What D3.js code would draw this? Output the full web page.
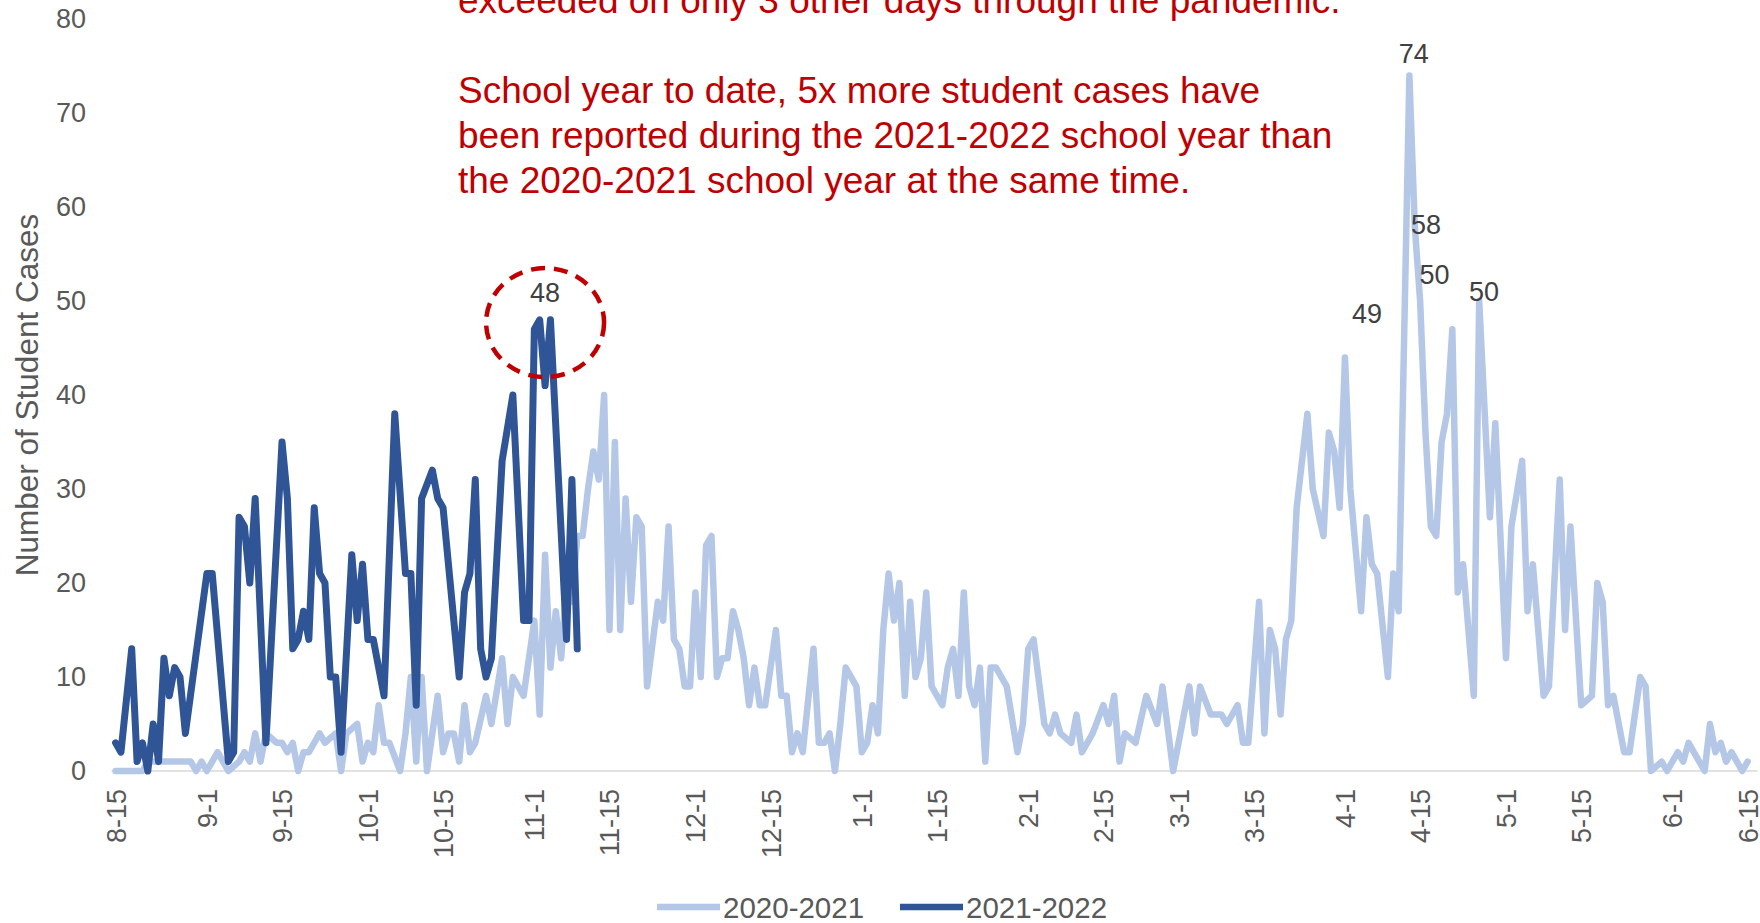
<!DOCTYPE html>
<html><head><meta charset="utf-8">
<script src="https://cdn.jsdelivr.net/npm/d3@7"></script>
<style>
html,body{margin:0;padding:0;background:#fff;overflow:hidden}
svg{display:block;font-family:"Liberation Sans",Arial,sans-serif}
</style></head><body>
<svg id="chart" width="1760" height="923"></svg>
<script>
// ---- data ----
// x categories: day of the school year (0 = Aug 15)
const tickLabels = ["8-15","9-1","9-15","10-1","10-15","11-1","11-15","12-1","12-15","1-1","1-15","2-1","2-15","3-1","3-15","4-1","4-15","5-1","5-15","6-1","6-15"];
const yTicks = [0,10,20,30,40,50,60,70,80];
const seriesNames = ["2020-2021","2021-2022"];

const days2020 = [0,5,6,14,15,16,17,19,20,21,23,24,25,26,27,28,30,31,32,33,34,35,36,37,38,39,41,42,43,45,46,47,48,49,50,51,53,54,55,56,57,58,60,61,62,63,64,65,66,67,69,70,72,73,74,76,78,79,80,81,82,83,84,85,86,87,88,89,90,91,92,93,94,95,96,97,98,99,101,102,103,104,105,106,107,108,109,110,111,112,113,114,115,116,117,118,119,120,121,123,124,125,126,127,128,130,131,132,133,134,135,136,138,139,140,141,142,143,144,145,146,147,148,149,150,151,152,154,155,156,157,158,159,160,161,162,163,164,166,168,169,170,171,173,174,175,176,178,179,180,182,184,185,186,187,188,190,192,194,195,197,198,200,201,202,204,206,207,209,210,211,213,214,215,216,217,218,219,220,222,223,225,226,227,228,229,230,232,233,234,235,237,238,239,241,242,243,244,245,246,247,248,249,250,251,253,254,256,257,259,260,262,263,264,266,267,269,270,271,273,275,276,277,278,279,281,282,284,285,286,288,289,291,292,293,296,297,298,299,300,301,303,304];
const cases2020 = [0,0,1,1,0,1,0,2,1,0,1,2,1,4,1,4,3,3,2,3,0,2,2,3,4,3,4,0,4,5,1,3,2,7,3,3,0,4,10,1,10,0,8,2,4,4,1,7,2,3,8,5,12,5,10,8,16,6,23,11,17,12,20,18,25,25,30,34,31,40,15,35,15,29,18,27,26,9,18,16,26,14,13,9,9,19,10,24,25,10,12,12,17,15,12,7,11,7,7,15,8,8,2,4,2,13,3,3,4,0,5,11,9,2,3,7,4,15,21,16,20,8,18,10,12,19,9,7,11,13,8,19,9,7,11,1,11,11,9,2,5,13,14,5,4,6,4,3,6,2,4,7,5,8,1,4,3,8,5,9,0,3,9,4,9,6,6,5,7,3,3,18,4,15,13,6,14,16,28,38,30,25,36,34,28,44,30,17,27,22,21,10,21,17,74,58,50,36,26,25,35,38,47,19,22,8,50,27,37,12,26,33,17,22,8,9,31,15,26,7,8,20,18,7,8,2,2,10,9,0,1,0,2,1,3,0,5,2,3,1,2,0,1];

const days2021 = [0,1,3,4,5,6,7,8,9,10,11,12,13,17,18,21,22,23,24,25,26,28,31,32,33,34,35,36,37,38,39,40,41,42,44,45,46,47,48,50,52,54,55,56,57,59,60,61,64,65,66,67,68,69,70,72,74,76,77,78,79,80,81,84,85,86];
const cases2021 = [3,2,13,1,3,0,5,1,12,8,11,10,4,21,21,1,2,27,26,20,29,3,35,29,13,14,17,14,28,21,20,10,10,2,23,16,22,14,14,8,38,21,21,7,29,32,29,28,10,19,21,31,13,10,12,33,40,16,16,47,48,41,48,14,31,13];

// data labels (anchored in data units)
const labelDays   = [80, 241.8, 244.1, 245.7, 254.9, 233.1];
const labelValues = [50.9, 76.3, 58.1, 52.8, 51, 48.6];
const labelTexts  = ["48","74","58","50","50","49"];

const noteLines = ["exceeded on only 3 other days through the pandemic.", "", "School year to date, 5x more student cases have", "been reported during the 2021-2022 school year than", "the 2020-2021 school year at the same time."];

// ---- drawing ----
const svg = d3.select("#chart");
const start = Date.UTC(2020,7,15);
const tickDays = tickLabels.map(s => {
  const [m, d] = s.split("-").map(Number);
  const yr = m >= 8 ? 2020 : 2021;
  return d3.utcDay.count(new Date(start), new Date(Date.UTC(yr, m-1, d)));
});

const x = d3.scaleLinear().domain([0, tickDays[tickDays.length-1]]).range([115.6, 1747.6]);
const y = d3.scaleLinear().domain([0, 80]).range([771, 19]);

const lightColor = "#b4c7e7", darkColor = "#2f5597";

// baseline
svg.append("line")
  .attr("x1", x.range()[0]-4).attr("x2", x.range()[1]+10)
  .attr("y1", y(0)).attr("y2", y(0))
  .attr("stroke", "#d9d9d9").attr("stroke-width", 1.5);

// y axis
const yAxis = svg.append("g").attr("transform", "translate(112,0)")
  .call(d3.axisLeft(y).tickValues(yTicks).tickSize(0).tickPadding(26));
yAxis.select(".domain").remove();
yAxis.selectAll("text").attr("fill", "#595959").style("font-size", "27px")
  .style("font-family", '"Liberation Sans",Arial,sans-serif');

// x axis
const xAxis = svg.append("g").attr("transform", `translate(0,${y(0)})`)
  .call(d3.axisBottom(x).tickValues(tickDays).tickFormat((d,i) => tickLabels[i]).tickSize(0));
xAxis.select(".domain").remove();
xAxis.selectAll("text")
  .attr("transform", "rotate(-90)")
  .attr("x", -18).attr("y", 0).attr("dy", "0.35em")
  .style("text-anchor", "end")
  .attr("fill", "#595959").style("font-size", "27px")
  .style("font-family", '"Liberation Sans",Arial,sans-serif');

// y title
svg.append("text")
  .attr("transform", `translate(27,${(y(0)+y(80))/2}) rotate(-90)`)
  .attr("text-anchor", "middle").attr("dominant-baseline", "central")
  .attr("fill", "#595959").style("font-size", "31.5px")
  .text("Number of Student Cases");

// lines
const line = d3.line().x(d => x(d[0])).y(d => y(d[1]));
svg.append("path")
  .datum(days2020.map((d,i) => [d, cases2020[i]]))
  .attr("d", line).attr("fill", "none").attr("stroke", lightColor)
  .attr("stroke-width", 6.5).attr("stroke-linejoin", "round").attr("stroke-linecap", "round");
svg.append("path")
  .datum(days2021.map((d,i) => [d, cases2021[i]]))
  .attr("d", line).attr("fill", "none").attr("stroke", darkColor)
  .attr("stroke-width", 7).attr("stroke-linejoin", "round").attr("stroke-linecap", "round");

// data labels
svg.append("g").selectAll("text").data(labelTexts).join("text")
  .attr("x", (d,i) => x(labelDays[i])).attr("y", (d,i) => y(labelValues[i]))
  .attr("text-anchor", "middle").attr("dominant-baseline", "central")
  .attr("fill", "#404040").style("font-size", "27px").text(d => d);

// dashed circle around 48 peak
svg.append("ellipse")
  .attr("cx", x(80)).attr("cy", y(47.7)).attr("rx", 59).attr("ry", 54.5)
  .attr("fill", "none").attr("stroke", "#c00000").attr("stroke-width", 4.5)
  .attr("stroke-dasharray", "14 9");

// red note
const note = svg.append("text").attr("fill", "#c00000").style("font-size", "37px");
noteLines.forEach((t, i) => {
  note.append("tspan").attr("x", 458).attr("y", 13 + i*45).text(t);
});

// legend
const legend = svg.append("g");
const legendItems = [{x: 657, color: lightColor}, {x: 900, color: darkColor}];
legendItems.forEach((it, i) => {
  legend.append("line").attr("x1", it.x).attr("x2", it.x + 63)
    .attr("y1", 907).attr("y2", 907).attr("stroke", it.color).attr("stroke-width", 6.5);
  legend.append("text").attr("x", it.x + 66).attr("y", 907)
    .attr("dominant-baseline", "central").attr("fill", "#595959")
    .style("font-size", "29.5px").text(seriesNames[i]);
});
</script>
</body></html>
